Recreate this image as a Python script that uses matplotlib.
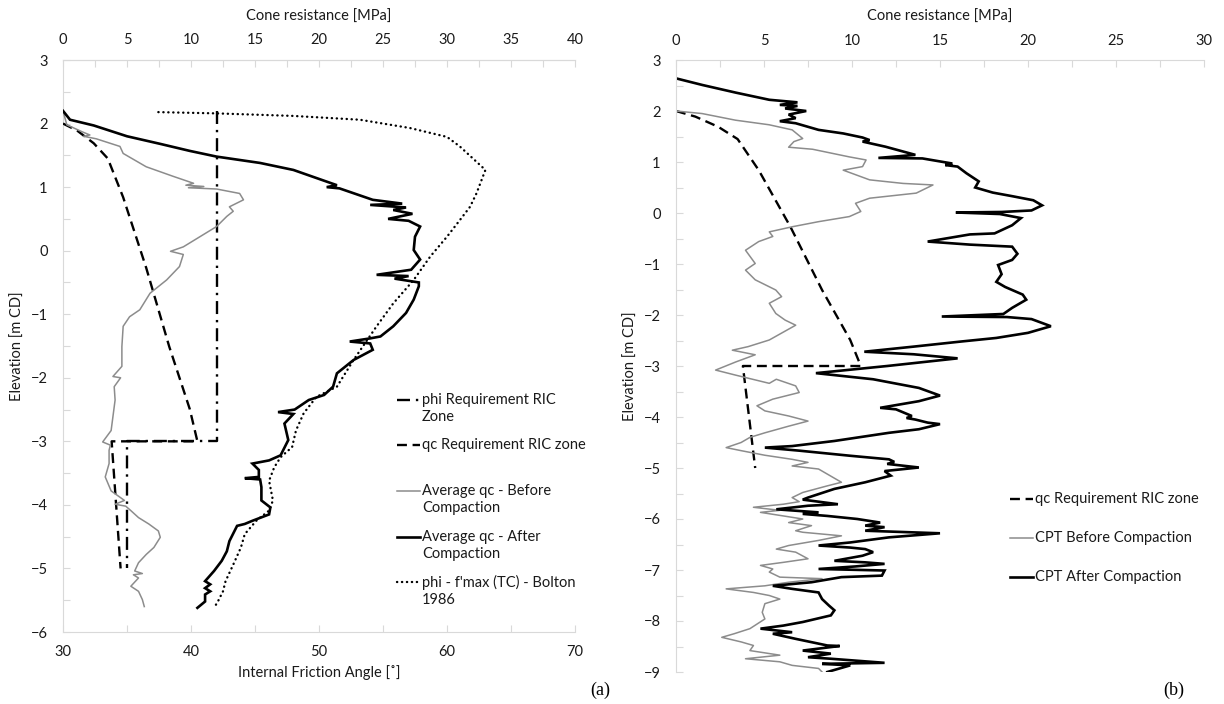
import numpy as np
import matplotlib
matplotlib.use("Agg")
import matplotlib.pyplot as plt
from matplotlib.ticker import MultipleLocator, FixedLocator
from matplotlib.lines import Line2D

plt.rcParams['font.family'] = ['Lato', 'DejaVu Sans']

# ---------------- data: panel (a) ----------------
# qc requirement (RIC zone) [MPa] vs elevation [m CD] (same in both panels)
qcreq_qc = [0.0, 1.1, 2.4, 3.5, 4.7, 6.5, 8.3, 9.9, 10.5, 3.8, 4.5]
qcreq_el = [2.0, 1.89, 1.69, 1.45, 0.84, -0.27, -1.51, -2.49, -3.0, -3.0, -5.0]

# phi requirement RIC zone [deg]
phireq_phi = [42.0, 42.0, 35.0, 35.0]
phireq_el = [2.2, -3.0, -3.0, -5.0]

# average qc before compaction [MPa]
avg_before_qc = [0.0, 0.3, 1.5, 2.1, 1.6, 2.6, 4.45, 4.7, 6.5, 8.6, 10.2, 9.6, 11.0, 9.8, 12.0,
                 13.8, 14.1, 13.0, 13.3, 12.8, 12.0, 10.7, 9.4, 8.4, 9.4, 9.1, 8.1, 6.8, 6.0, 5.2,
                 4.7, 4.6, 4.6, 3.9, 4.5, 4.0, 4.07, 3.76, 3.1, 3.7, 3.6, 3.6, 3.3, 3.76, 4.8,
                 4.07, 4.9, 5.3, 5.9, 6.7, 7.45, 7.6, 7.1, 6.5, 5.9, 5.6, 6.2, 5.5, 5.9, 5.3,
                 5.9, 6.2, 6.35]
avg_before_el = [2.2, 1.98, 1.87, 1.82, 1.80, 1.76, 1.64, 1.53, 1.32, 1.17, 1.06, 1.03, 1.01, 0.99, 0.97,
                 0.90, 0.80, 0.69, 0.62, 0.54, 0.38, 0.22, 0.06, -0.01, -0.06, -0.25, -0.46, -0.67, -0.93, -1.04,
                 -1.19, -1.51, -1.82, -1.98, -2.0, -2.14, -2.35, -2.83, -3.01, -3.06, -3.14, -3.35, -3.56, -3.78, -3.93,
                 -3.99, -4.02, -4.09, -4.20, -4.30, -4.41, -4.51, -4.67, -4.78, -4.91, -5.04, -5.08, -5.10, -5.15, -5.28,
                 -5.36, -5.49, -5.60]

# average qc after compaction [MPa]
avg_after_qc = [0.0, 0.55, 2.4, 5.0, 7.6, 9.9, 12.0, 15.4, 18.0, 21.4, 20.6, 21.6, 24.2, 26.5, 24.0,
                26.8, 25.8, 27.3, 25.4, 27.0, 27.9, 27.5, 27.4, 27.9, 27.2, 24.5, 27.0, 25.9, 27.8, 27.8,
                27.4, 26.8, 25.8, 24.8, 24.0, 22.4, 24.0, 24.2, 22.7, 21.4, 21.1, 20.4, 19.2, 18.1, 16.8,
                18.0, 17.3, 17.6, 17.0, 16.1, 14.8, 15.3, 15.3, 14.2, 15.4, 15.5, 15.5, 16.2, 16.1, 14.8,
                14.2, 13.6, 13.0, 12.8, 12.4, 11.8, 11.1, 11.5, 11.1, 11.5, 11.1, 11.1, 10.5]
avg_after_el = [2.2, 2.06, 1.97, 1.80, 1.68, 1.57, 1.48, 1.38, 1.27, 1.03, 1.00, 0.98, 0.80, 0.74, 0.72,
                0.68, 0.64, 0.58, 0.50, 0.47, 0.38, 0.22, 0.01, -0.14, -0.30, -0.38, -0.40, -0.44, -0.50, -0.56,
                -0.77, -0.98, -1.19, -1.35, -1.38, -1.43, -1.46, -1.56, -1.72, -1.93, -2.14, -2.27, -2.35, -2.50, -2.54,
                -2.57, -2.72, -2.98, -3.22, -3.30, -3.35, -3.45, -3.56, -3.58, -3.60, -3.72, -3.93, -4.04, -4.15, -4.25,
                -4.30, -4.33, -4.57, -4.73, -4.88, -5.04, -5.20, -5.25, -5.31, -5.36, -5.41, -5.52, -5.62]

# phi - f'max (TC) - Bolton 1986 [deg]
bolton_phi = [37.45, 42.0, 48.0, 53.2, 57.1, 60.0, 61.0, 63.0, 62.3, 61.8, 61.0, 60.0, 58.7, 57.4, 55.8,
              54.5, 52.7, 51.4, 49.8, 48.8, 48.2, 47.9, 47.0, 46.5, 46.1, 46.4, 46.1, 45.1, 44.2, 43.9,
              43.3, 42.7, 42.5, 42.1, 41.8]
bolton_el = [2.18, 2.16, 2.12, 2.06, 1.93, 1.79, 1.64, 1.27, 0.90, 0.69, 0.48, 0.22, -0.09, -0.46, -0.83,
             -1.19, -1.72, -2.14, -2.30, -2.56, -2.83, -3.09, -3.25, -3.41, -3.62, -3.93, -4.09, -4.25, -4.46, -4.67,
             -4.94, -5.20, -5.36, -5.52, -5.62]

# ---------------- data: panel (b) ----------------
cpt_before_qc = [0.0, 1.48, 3.38, 5.29, 6.6, 7.2, 6.7, 6.4, 7.76, 9.85, 10.8, 10.6, 9.5, 11.0, 12.9,
                 14.6, 13.65, 11.0, 10.2, 10.5, 9.85, 8.1, 6.6, 5.3, 5.5, 4.7, 3.95, 4.5, 3.95, 4.5,
                 5.67, 6.0, 5.3, 5.67, 6.2, 6.8, 5.3, 4.1, 3.2, 4.5, 3.4, 2.25, 3.4, 5.3, 5.7,
                 6.8, 7.0, 5.5, 4.6, 5.05, 6.4, 7.5, 6.4, 5.05, 4.2, 3.7, 2.85, 3.7, 5.05, 6.6,
                 7.5, 6.6, 8.1, 8.6, 9.4, 8.6, 7.2, 6.6, 7.0, 6.1, 4.4, 5.9, 4.8, 6.1, 7.2,
                 6.4, 7.7, 6.8, 7.2, 9.4, 8.1, 6.4, 5.7, 6.8, 7.5, 6.1, 4.8, 5.5, 5.3, 5.9,
                 8.3, 6.4, 5.05, 2.85, 4.4, 5.3, 5.9, 5.05, 4.9, 5.05, 4.2, 3.3, 2.6, 3.7, 4.4,
                 4.2, 5.9, 3.95, 5.9, 6.6, 8.1, 8.3]
cpt_before_el = [2.0, 1.95, 1.82, 1.73, 1.63, 1.46, 1.40, 1.29, 1.25, 1.10, 1.04, 0.91, 0.84, 0.65, 0.58,
                 0.55, 0.39, 0.29, 0.19, 0.03, -0.07, -0.17, -0.27, -0.37, -0.46, -0.56, -0.73, -0.99, -1.12, -1.31,
                 -1.51, -1.64, -1.77, -1.97, -2.10, -2.20, -2.49, -2.62, -2.69, -2.78, -2.92, -3.08, -3.18, -3.34, -3.26,
                 -3.39, -3.52, -3.65, -3.78, -3.88, -3.98, -4.08, -4.18, -4.31, -4.40, -4.50, -4.60, -4.66, -4.75, -4.83,
                 -4.89, -4.96, -5.02, -5.12, -5.28, -5.35, -5.48, -5.58, -5.66, -5.71, -5.77, -5.83, -5.87, -5.94, -6.00,
                 -6.07, -6.13, -6.23, -6.26, -6.33, -6.42, -6.52, -6.59, -6.65, -6.78, -6.85, -6.91, -6.98, -7.04, -7.14,
                 -7.17, -7.24, -7.31, -7.37, -7.44, -7.50, -7.57, -7.66, -7.83, -7.96, -8.15, -8.25, -8.32, -8.41, -8.48,
                 -8.58, -8.67, -8.74, -8.80, -8.87, -8.93, -9.00]

cpt_after_qc = [0.0, 1.5, 3.4, 5.3, 6.9, 5.9, 6.9, 6.2, 7.4, 6.4, 6.8, 5.9, 6.8, 8.1, 9.5,
                10.6, 11.0, 10.6, 11.9, 13.6, 11.5, 14.0, 15.7, 15.3, 16.0, 16.5, 17.2, 17.0, 18.0, 19.1,
                20.3, 20.8, 20.2, 18.5, 15.9, 18.4, 19.6, 19.1, 18.1, 16.7, 14.3, 16.7, 19.1, 19.4, 19.1,
                18.3, 18.5, 18.2, 18.7, 19.7, 19.9, 19.1, 18.6, 15.1, 18.8, 20.2, 21.3, 20.0, 18.2, 16.2,
                13.5, 10.7, 13.5, 16.0, 12.0, 7.95, 11.2, 13.8, 15.0, 13.8, 11.6, 12.5, 13.4, 13.1, 13.6,
                14.3, 15.0, 13.8, 12.1, 9.0, 6.6, 5.05, 7.0, 9.9, 12.1, 12.4, 12.0, 13.8, 11.85, 12.2,
                10.75, 9.0, 7.5, 7.2, 9.2, 7.5, 5.7, 8.1, 7.2, 8.6, 10.3, 11.6, 10.75, 11.85, 10.75,
                15.0, 12.1, 9.9, 8.1, 9.9, 10.75, 11.2, 10.6, 9.0, 10.75, 11.85, 10.2, 8.1, 11.85, 11.7,
                9.4, 7.7, 5.5, 6.6, 8.1, 8.3, 8.7, 9.0, 8.8, 7.2, 6.1, 4.8, 6.6, 5.5, 6.8,
                8.6, 9.3, 7.2, 8.8, 7.5, 8.8, 11.85, 8.3, 9.9, 8.6]
cpt_after_el = [2.64, 2.51, 2.36, 2.22, 2.17, 2.12, 2.10, 2.05, 2.00, 1.93, 1.86, 1.80, 1.76, 1.63, 1.56,
                1.48, 1.43, 1.40, 1.30, 1.14, 1.08, 1.07, 0.97, 0.94, 0.91, 0.78, 0.62, 0.50, 0.40, 0.33,
                0.25, 0.15, 0.05, 0.02, 0.01, -0.02, -0.10, -0.24, -0.40, -0.42, -0.56, -0.62, -0.66, -0.80, -0.92,
                -1.02, -1.20, -1.35, -1.45, -1.60, -1.70, -1.86, -1.98, -2.03, -2.04, -2.08, -2.22, -2.35, -2.45, -2.52,
                -2.62, -2.72, -2.77, -2.85, -3.00, -3.14, -3.26, -3.43, -3.58, -3.69, -3.82, -3.85, -3.98, -4.02, -4.05,
                -4.11, -4.14, -4.24, -4.31, -4.47, -4.57, -4.60, -4.66, -4.76, -4.83, -4.88, -4.92, -4.99, -5.06, -5.15,
                -5.28, -5.41, -5.58, -5.62, -5.71, -5.74, -5.81, -5.87, -5.90, -5.94, -6.00, -6.07, -6.13, -6.16, -6.23,
                -6.28, -6.36, -6.46, -6.52, -6.56, -6.59, -6.65, -6.72, -6.82, -6.85, -6.88, -6.93, -6.98, -7.01, -7.11,
                -7.14, -7.24, -7.31, -7.37, -7.44, -7.57, -7.70, -7.79, -7.89, -8.02, -8.09, -8.15, -8.22, -8.25, -8.35,
                -8.48, -8.49, -8.58, -8.64, -8.71, -8.74, -8.82, -8.84, -8.87, -9.00]

left_labels = ["phi Requirement RIC\nZone", "qc Requirement RIC zone",
               "Average qc - Before\nCompaction", "Average qc - After\nCompaction",
               "phi - f'max (TC) - Bolton\n1986"]
right_labels = ["qc Requirement RIC zone", "CPT Before Compaction", "CPT After Compaction"]

# ---------------- styles ----------------
W, H = 1224, 704
GRID = '#d9d9d9'
TXT = '#1a1a1a'
FS = 10.5
black_kw = dict(color='black', lw=1.9, solid_joinstyle='miter')
gray_kw = dict(color='#8c8c8c', lw=1.1)
dash_kw = dict(color='black', lw=1.7, linestyle=(0, (4.2, 2.4)), dash_capstyle='butt')
dashdot_kw = dict(color='black', lw=1.7, linestyle=(0, (5.5, 2.5, 1.0, 2.5)), dash_capstyle='butt')
dot_kw = dict(color='black', lw=1.7, linestyle=(0, (0.1, 2.0)), dash_capstyle='round')

fig = plt.figure(figsize=(W / 100, H / 100), dpi=100)


def px_axes(x0, x1, y0, y1):
    return fig.add_axes([x0 / W, 1 - y1 / H, (x1 - x0) / W, (y1 - y0) / H])


def style_ticks(a, which_axis):
    a.tick_params(axis=which_axis, which='both', direction='in', length=5, width=0.8,
                  color=GRID, labelcolor=TXT, labelsize=FS)


# ---------------- panel (a) ----------------
ax = px_axes(63, 575, 60, 632)
axt = ax.twiny()

ax.plot(phireq_phi, phireq_el, **dashdot_kw)
ax.plot(bolton_phi, bolton_el, **dot_kw)
axt.plot(qcreq_qc, qcreq_el, **dash_kw)
axt.plot(avg_before_qc, avg_before_el, **gray_kw)
axt.plot(avg_after_qc, avg_after_el, **black_kw)

ax.set_xlim(30, 70)
axt.set_xlim(0, 40)
ax.set_ylim(-6, 3)
ax.xaxis.set_major_locator(MultipleLocator(10))
ax.xaxis.set_minor_locator(MultipleLocator(5))
axt.xaxis.set_major_locator(MultipleLocator(5))
axt.xaxis.set_minor_locator(MultipleLocator(2.5))
ax.yaxis.set_major_locator(MultipleLocator(1))
ax.yaxis.set_minor_locator(MultipleLocator(0.5))
style_ticks(ax, 'x')
style_ticks(ax, 'y')
style_ticks(axt, 'x')
ax.tick_params(axis='x', pad=9)
ax.tick_params(axis='y', pad=11)
axt.tick_params(axis='x', pad=9)
for s in ['left', 'bottom', 'top']:
    ax.spines[s].set_color(GRID)
ax.spines['right'].set_visible(False)
for s in ['left', 'bottom', 'right']:
    axt.spines[s].set_visible(False)
axt.spines['top'].set_color(GRID)
ax.set_xlabel("Internal Friction Angle [˚]", fontsize=FS, color=TXT, labelpad=5)
ax.set_ylabel("Elevation [m CD]", fontsize=FS, color=TXT, labelpad=4)
axt.set_xlabel("Cone resistance [MPa]", fontsize=FS, color=TXT, labelpad=9)

# ---------------- panel (b) ----------------
ax2 = px_axes(676, 1204, 60, 672)
ax2.plot(qcreq_qc, qcreq_el, **dash_kw)
ax2.plot(cpt_before_qc, cpt_before_el, **gray_kw)
ax2.plot(cpt_after_qc, cpt_after_el, **black_kw)
ax2.set_xlim(0, 30)
ax2.set_ylim(-9, 3)
ax2.xaxis.tick_top()
ax2.xaxis.set_label_position('top')
ax2.xaxis.set_major_locator(MultipleLocator(5))
ax2.xaxis.set_minor_locator(MultipleLocator(2.5))
ax2.yaxis.set_major_locator(MultipleLocator(1))
ax2.yaxis.set_minor_locator(MultipleLocator(0.5))
style_ticks(ax2, 'x')
style_ticks(ax2, 'y')
ax2.tick_params(axis='x', pad=9)
ax2.tick_params(axis='y', pad=11)
ax2.spines['left'].set_color(GRID)
ax2.spines['top'].set_color(GRID)
ax2.spines['right'].set_visible(False)
ax2.spines['bottom'].set_visible(False)
ax2.set_xlabel("Cone resistance [MPa]", fontsize=FS, color=TXT, labelpad=9)
ax2.set_ylabel("Elevation [m CD]", fontsize=FS, color=TXT, labelpad=4)

# ---------------- legends (Excel-style, keys aligned with first text line) ----------------
def legend_entry(x0, x1, y_key, y_text, label, kw):
    fig.add_artist(Line2D([x0 / W, x1 / W], [1 - y_key / H, 1 - y_key / H],
                          transform=fig.transFigure, **kw))
    fig.text((x1 + 2) / W, 1 - y_text / H, label, fontsize=FS, color=TXT,
             ha='left', va='center', linespacing=1.2)

left_kws = [dashdot_kw, dash_kw, gray_kw, black_kw, dot_kw]
left_key_y = [400, 445, 491, 537, 582]
left_text_y = [408.5, 445, 499.5, 545.5, 591]
for lab, kw, yk, yt in zip(left_labels, left_kws, left_key_y, left_text_y):
    legend_entry(397, 420, yk, yt, lab, kw)

right_kws = [dash_kw, gray_kw, black_kw]
right_y = [499, 538, 577]
for lab, kw, yk in zip(right_labels, right_kws, right_y):
    legend_entry(1010, 1033, yk, yk, lab, kw)

fig.text(600 / W, 1 - 690 / H, "(a)", fontsize=13, family='Liberation Serif',
         ha='center', va='center', color='black')
fig.text(1174 / W, 1 - 690 / H, "(b)", fontsize=13, family='Liberation Serif',
         ha='center', va='center', color='black')

fig.savefig("out.png", dpi=100)
